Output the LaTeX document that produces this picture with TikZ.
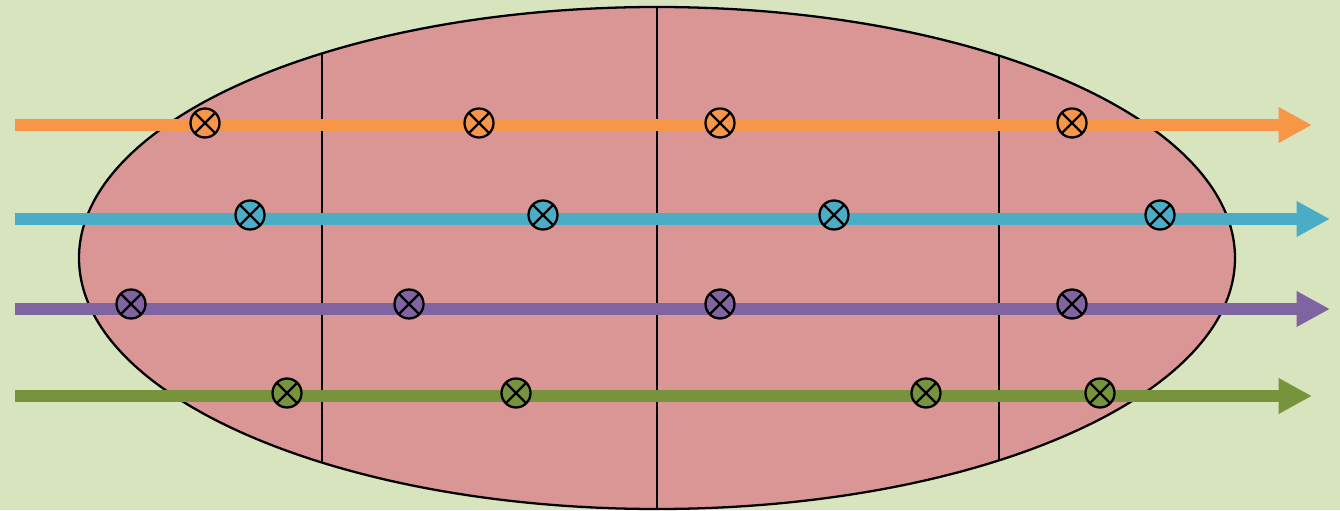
\documentclass[tikz,border=0pt]{standalone}
\usetikzlibrary{arrows.meta}

\definecolor{bgcol}{HTML}{D7E4BD}
\definecolor{cellcol}{HTML}{D99694}
\definecolor{orangecol}{HTML}{F79646}
\definecolor{bluecol}{HTML}{4BACC6}
\definecolor{purplecol}{HTML}{8064A2}
\definecolor{greencol}{HTML}{77933C}

\begin{document}
\begin{tikzpicture}[
    x=0.02cm, y=-0.02cm,
    outline/.style={draw=black, line width=1.3pt},
    beam/.style={line width=6.6pt, -{Triangle[length=19pt, width=19pt]}},
    xmark/.style={circle, draw=black, line width=1.3pt, minimum size=0.58cm,
                  inner sep=0pt,
                  path picture={\draw[line width=1.3pt]
                    (path picture bounding box.north west) -- (path picture bounding box.south east)
                    (path picture bounding box.south west) -- (path picture bounding box.north east);}},
  ]

  % --- background and cell ---
  \fill[bgcol] (0,0) rectangle (1340,510);
  \fill[cellcol] (657,258) ellipse [x radius=578, y radius=251];

  % --- partition lines, cut to the cell ---
  \begin{scope}
    \clip (657,258) ellipse [x radius=578, y radius=251];
    \coordinate (pa1) at (322,0);   \coordinate (pa2) at (322,510);
    \coordinate (pb1) at (657,0);   \coordinate (pb2) at (657,510);
    \coordinate (pc1) at (999,0);   \coordinate (pc2) at (999,510);
    \draw[outline] (pa1) -- (pa2);
    \draw[outline] (pb1) -- (pb2);
    \draw[outline] (pc1) -- (pc2);
  \end{scope}
  \draw[outline] (657,258) ellipse [x radius=578, y radius=251];

  % --- orange ray ---
  \coordinate (or0) at (15,125);
  \coordinate (or1) at (1312,125);
  \draw[beam, orangecol] (or0) -- (or1);
  \node[xmark, fill=orangecol] (or-a) at (205,123) {};
  \node[xmark, fill=orangecol] (or-b) at (479,123) {};
  \node[xmark, fill=orangecol] (or-c) at (720,123) {};
  \node[xmark, fill=orangecol] (or-d) at (1072,123) {};

  % --- blue ray ---
  \coordinate (bl0) at (15,219);
  \coordinate (bl1) at (1330,219);
  \draw[beam, bluecol] (bl0) -- (bl1);
  \node[xmark, fill=bluecol] (bl-a) at (250,215) {};
  \node[xmark, fill=bluecol] (bl-b) at (543,215) {};
  \node[xmark, fill=bluecol] (bl-c) at (834,215) {};
  \node[xmark, fill=bluecol] (bl-d) at (1160,215) {};

  % --- purple ray ---
  \coordinate (pu0) at (15,309);
  \coordinate (pu1) at (1330,309);
  \draw[beam, purplecol] (pu0) -- (pu1);
  \node[xmark, fill=purplecol] (pu-a) at (131,304) {};
  \node[xmark, fill=purplecol] (pu-b) at (409,304) {};
  \node[xmark, fill=purplecol] (pu-c) at (720,304) {};
  \node[xmark, fill=purplecol] (pu-d) at (1072,304) {};

  % --- green ray ---
  \coordinate (gr0) at (15,396);
  \coordinate (gr1) at (1312,396);
  \draw[beam, greencol] (gr0) -- (gr1);
  \node[xmark, fill=greencol] (gr-a) at (287,393) {};
  \node[xmark, fill=greencol] (gr-b) at (516,393) {};
  \node[xmark, fill=greencol] (gr-c) at (926,393) {};
  \node[xmark, fill=greencol] (gr-d) at (1100,393) {};
\end{tikzpicture}
\end{document}
